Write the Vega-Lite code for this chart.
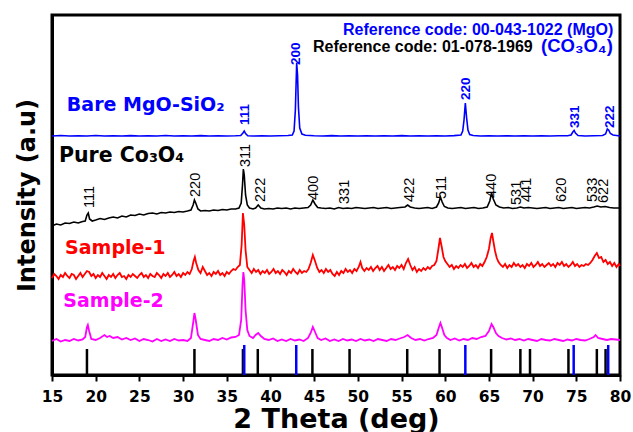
{
"$schema": "https://vega.github.io/schema/vega-lite/v6.json",
"width": 568, "height": 360,
"autosize": {"type": "none"},
"padding": {"left": 52, "top": 15, "right": 13, "bottom": 57},
"background": "white",
"config": {"view": {"stroke": "black", "strokeWidth": 3}, "font": "DejaVu Sans"},
"datasets": {
"minor": [{"x":17.5},{"x":22.5},{"x":27.5},{"x":32.5},{"x":37.5},{"x":42.5},{"x":47.5},{"x":52.5},{"x":57.5},{"x":62.5},{"x":67.5},{"x":72.5},{"x":77.5}],
"sticks": [
{"x":19.0,"y":26,"p":"Co3O4"},{"x":31.3,"y":26,"p":"Co3O4"},{"x":36.85,"y":26,"p":"Co3O4"},{"x":38.55,"y":26,"p":"Co3O4"},{"x":44.8,"y":26,"p":"Co3O4"},{"x":49.05,"y":26,"p":"Co3O4"},{"x":55.65,"y":26,"p":"Co3O4"},{"x":59.35,"y":26,"p":"Co3O4"},{"x":65.25,"y":26,"p":"Co3O4"},{"x":68.6,"y":26,"p":"Co3O4"},{"x":69.7,"y":26,"p":"Co3O4"},{"x":74.1,"y":26,"p":"Co3O4"},{"x":77.35,"y":26,"p":"Co3O4"},{"x":78.35,"y":26,"p":"Co3O4"},
{"x":37.0,"y":30,"p":"MgO"},{"x":42.95,"y":30,"p":"MgO"},{"x":62.3,"y":30,"p":"MgO"},{"x":74.7,"y":30,"p":"MgO"},{"x":78.65,"y":30,"p":"MgO"}],
"mgo": [
{"x":15,"y":239},{"x":16,"y":239.5},{"x":17,"y":239},{"x":18,"y":239.3},{"x":19,"y":239},{"x":20,"y":239.5},{"x":21,"y":239},{"x":22,"y":239.2},{"x":23,"y":239},{"x":24,"y":239.4},{"x":25,"y":239},{"x":26,"y":239.3},{"x":27,"y":239},{"x":28,"y":239.5},{"x":29,"y":239},{"x":30,"y":239.2},{"x":31,"y":239},{"x":32,"y":239.4},{"x":33,"y":239},{"x":34,"y":239.3},{"x":35,"y":239},{"x":36,"y":239.2},{"x":36.6,"y":239.5},{"x":36.85,"y":242},{"x":37.0,"y":244},{"x":37.15,"y":241.5},{"x":37.4,"y":239.3},{"x":38,"y":239},{"x":39,"y":239.2},{"x":40,"y":239},{"x":41,"y":239.3},{"x":42,"y":239.5},{"x":42.5,"y":240},{"x":42.7,"y":244},{"x":42.85,"y":265},{"x":43.0,"y":312},{"x":43.1,"y":300},{"x":43.2,"y":268},{"x":43.35,"y":247},{"x":43.6,"y":241},{"x":44,"y":239.8},{"x":45,"y":239.3},{"x":46,"y":239},{"x":47,"y":239.4},{"x":48,"y":239},{"x":49,"y":239.2},{"x":50,"y":239},{"x":51,"y":239.3},{"x":52,"y":239},{"x":53,"y":239.2},{"x":54,"y":239},{"x":55,"y":239.4},{"x":56,"y":239},{"x":57,"y":239.2},{"x":58,"y":239},{"x":59,"y":239.3},{"x":60,"y":239},{"x":61,"y":239.4},{"x":61.8,"y":240},{"x":62.0,"y":244},{"x":62.15,"y":255},{"x":62.3,"y":272},{"x":62.45,"y":257},{"x":62.6,"y":245},{"x":62.8,"y":240.5},{"x":63.2,"y":239.5},{"x":64,"y":239},{"x":65,"y":239.3},{"x":66,"y":239},{"x":67,"y":239.2},{"x":68,"y":239},{"x":69,"y":239.3},{"x":70,"y":239},{"x":71,"y":239.2},{"x":72,"y":239},{"x":73,"y":239.3},{"x":74,"y":239.2},{"x":74.4,"y":240},{"x":74.6,"y":243},{"x":74.75,"y":244.5},{"x":74.9,"y":242},{"x":75.2,"y":239.5},{"x":76,"y":239},{"x":77,"y":239.3},{"x":78,"y":239.5},{"x":78.35,"y":241},{"x":78.55,"y":246},{"x":78.7,"y":245},{"x":78.9,"y":241.5},{"x":79.2,"y":240},{"x":79.6,"y":239.5},{"x":80,"y":239}],
"co": [
{"x":15,"y":149},{"x":15.5,"y":151},{"x":16,"y":150},{"x":16.5,"y":152},{"x":17,"y":151.5},{"x":17.5,"y":153},{"x":18,"y":152},{"x":18.5,"y":153.5},{"x":18.8,"y":154},{"x":19.0,"y":160},{"x":19.15,"y":162},{"x":19.3,"y":156},{"x":19.6,"y":154},{"x":20,"y":155},{"x":20.5,"y":156.5},{"x":21,"y":155.5},{"x":21.5,"y":157},{"x":22,"y":158},{"x":22.5,"y":157},{"x":23,"y":159},{"x":23.5,"y":158},{"x":24,"y":160},{"x":24.5,"y":159.5},{"x":25,"y":161},{"x":25.5,"y":160},{"x":26,"y":161.5},{"x":26.5,"y":162},{"x":27,"y":161},{"x":27.5,"y":162.5},{"x":28,"y":162},{"x":28.5,"y":163},{"x":29,"y":162.5},{"x":29.5,"y":163.5},{"x":30,"y":163},{"x":30.5,"y":164},{"x":30.9,"y":165},{"x":31.15,"y":170},{"x":31.3,"y":175},{"x":31.45,"y":172},{"x":31.7,"y":166},{"x":32,"y":164},{"x":32.5,"y":164.5},{"x":33,"y":164},{"x":33.5,"y":165},{"x":34,"y":164.5},{"x":34.5,"y":165.5},{"x":35,"y":165},{"x":35.5,"y":166},{"x":36,"y":166},{"x":36.4,"y":167},{"x":36.65,"y":172},{"x":36.8,"y":190},{"x":36.9,"y":206},{"x":37.0,"y":200},{"x":37.15,"y":180},{"x":37.35,"y":170},{"x":37.6,"y":167},{"x":38,"y":166},{"x":38.3,"y":167},{"x":38.6,"y":170},{"x":38.9,"y":167},{"x":39.3,"y":166},{"x":39.8,"y":166.5},{"x":40.3,"y":166},{"x":40.8,"y":167},{"x":41.3,"y":166.5},{"x":41.8,"y":167},{"x":42.3,"y":166},{"x":42.8,"y":167},{"x":43.3,"y":166.5},{"x":43.8,"y":167},{"x":44.3,"y":167.5},{"x":44.6,"y":170},{"x":44.85,"y":175},{"x":45.1,"y":171},{"x":45.4,"y":167.5},{"x":45.8,"y":167},{"x":46.3,"y":166.5},{"x":46.8,"y":167},{"x":47.3,"y":166},{"x":47.8,"y":167.5},{"x":48.3,"y":166.5},{"x":48.8,"y":167},{"x":49.3,"y":166.5},{"x":49.8,"y":167.5},{"x":50.3,"y":167},{"x":50.8,"y":166.5},{"x":51.3,"y":167},{"x":51.8,"y":167.5},{"x":52.3,"y":166.5},{"x":52.8,"y":167},{"x":53.3,"y":167.5},{"x":53.8,"y":166.5},{"x":54.3,"y":167},{"x":54.8,"y":167.5},{"x":55.4,"y":168},{"x":55.7,"y":170},{"x":56.0,"y":168},{"x":56.5,"y":167},{"x":57,"y":166.5},{"x":57.5,"y":167},{"x":58,"y":167.5},{"x":58.5,"y":166.5},{"x":59,"y":168},{"x":59.25,"y":172},{"x":59.45,"y":178},{"x":59.65,"y":173},{"x":59.9,"y":168.5},{"x":60.3,"y":167},{"x":60.8,"y":166.5},{"x":61.3,"y":167},{"x":61.8,"y":167.5},{"x":62.3,"y":166.5},{"x":62.8,"y":167},{"x":63.3,"y":167.5},{"x":63.8,"y":166.5},{"x":64.3,"y":167},{"x":64.8,"y":168},{"x":65.1,"y":174},{"x":65.3,"y":182},{"x":65.5,"y":176},{"x":65.8,"y":170},{"x":66.2,"y":168},{"x":66.7,"y":167},{"x":67.2,"y":167.5},{"x":67.7,"y":166.5},{"x":68.2,"y":167},{"x":68.6,"y":168},{"x":69,"y":167},{"x":69.5,"y":167.5},{"x":70,"y":167},{"x":70.5,"y":166.5},{"x":71,"y":167},{"x":71.5,"y":167.5},{"x":72,"y":166.5},{"x":72.5,"y":167},{"x":73,"y":167.5},{"x":73.5,"y":166.5},{"x":74,"y":167},{"x":74.5,"y":167.5},{"x":75,"y":166.5},{"x":75.5,"y":167},{"x":76,"y":167.5},{"x":76.5,"y":167},{"x":77,"y":168},{"x":77.4,"y":169},{"x":77.8,"y":168},{"x":78.3,"y":168.5},{"x":78.8,"y":167.5},{"x":79.3,"y":167},{"x":80,"y":167}],
"s1": [
{"x":15.0,"y":97},{"x":15.25,"y":101},{"x":15.5,"y":99},{"x":15.75,"y":96},{"x":16,"y":100},{"x":16.25,"y":98},{"x":16.5,"y":102},{"x":16.75,"y":99},{"x":17,"y":97},{"x":17.25,"y":101},{"x":17.5,"y":100},{"x":17.75,"y":96},{"x":18,"y":99},{"x":18.25,"y":102},{"x":18.5,"y":98},{"x":18.75,"y":101},{"x":19.0,"y":104},{"x":19.25,"y":103},{"x":19.5,"y":99},{"x":19.75,"y":101},{"x":20,"y":97},{"x":20.25,"y":100},{"x":20.5,"y":98},{"x":20.75,"y":102},{"x":21,"y":99},{"x":21.25,"y":96},{"x":21.5,"y":100},{"x":21.75,"y":98},{"x":22,"y":101},{"x":22.25,"y":97},{"x":22.5,"y":100},{"x":22.75,"y":102},{"x":23,"y":98},{"x":23.25,"y":99},{"x":23.5,"y":96},{"x":23.75,"y":100},{"x":24,"y":98},{"x":24.25,"y":101},{"x":24.5,"y":99},{"x":24.75,"y":97},{"x":25,"y":100},{"x":25.25,"y":102},{"x":25.5,"y":98},{"x":25.75,"y":100},{"x":26,"y":97},{"x":26.25,"y":101},{"x":26.5,"y":99},{"x":26.75,"y":98},{"x":27,"y":102},{"x":27.25,"y":100},{"x":27.5,"y":97},{"x":27.75,"y":101},{"x":28,"y":99},{"x":28.25,"y":102},{"x":28.5,"y":98},{"x":28.75,"y":100},{"x":29,"y":103},{"x":29.25,"y":99},{"x":29.5,"y":101},{"x":29.75,"y":98},{"x":30,"y":102},{"x":30.25,"y":100},{"x":30.5,"y":103},{"x":30.75,"y":101},{"x":31.0,"y":106},{"x":31.2,"y":114},{"x":31.35,"y":118},{"x":31.5,"y":112},{"x":31.75,"y":105},{"x":32.0,"y":102},{"x":32.25,"y":108},{"x":32.5,"y":104},{"x":32.75,"y":100},{"x":33,"y":102},{"x":33.25,"y":99},{"x":33.5,"y":103},{"x":33.75,"y":101},{"x":34,"y":104},{"x":34.25,"y":100},{"x":34.5,"y":102},{"x":34.75,"y":99},{"x":35,"y":103},{"x":35.25,"y":101},{"x":35.5,"y":104},{"x":35.75,"y":106},{"x":36,"y":105},{"x":36.25,"y":108},{"x":36.5,"y":110},{"x":36.7,"y":130},{"x":36.85,"y":162},{"x":37.0,"y":150},{"x":37.15,"y":125},{"x":37.35,"y":108},{"x":37.6,"y":105},{"x":37.85,"y":102},{"x":38.1,"y":106},{"x":38.35,"y":103},{"x":38.6,"y":105},{"x":38.85,"y":101},{"x":39.1,"y":104},{"x":39.35,"y":102},{"x":39.6,"y":105},{"x":39.85,"y":101},{"x":40.1,"y":103},{"x":40.35,"y":106},{"x":40.6,"y":102},{"x":40.85,"y":104},{"x":41.1,"y":101},{"x":41.35,"y":105},{"x":41.6,"y":103},{"x":41.85,"y":100},{"x":42.1,"y":104},{"x":42.35,"y":102},{"x":42.6,"y":106},{"x":42.85,"y":103},{"x":43.1,"y":101},{"x":43.35,"y":105},{"x":43.6,"y":102},{"x":43.85,"y":104},{"x":44.1,"y":103},{"x":44.35,"y":106},{"x":44.6,"y":112},{"x":44.85,"y":120},{"x":45.1,"y":114},{"x":45.35,"y":107},{"x":45.6,"y":103},{"x":45.85,"y":105},{"x":46.1,"y":102},{"x":46.35,"y":106},{"x":46.6,"y":103},{"x":46.85,"y":105},{"x":47.1,"y":101},{"x":47.35,"y":99},{"x":47.6,"y":103},{"x":47.85,"y":100},{"x":48.1,"y":104},{"x":48.35,"y":102},{"x":48.6,"y":106},{"x":48.85,"y":103},{"x":49.1,"y":105},{"x":49.35,"y":102},{"x":49.6,"y":106},{"x":49.85,"y":104},{"x":50.1,"y":108},{"x":50.3,"y":113},{"x":50.5,"y":107},{"x":50.75,"y":104},{"x":51,"y":107},{"x":51.25,"y":105},{"x":51.5,"y":108},{"x":51.75,"y":104},{"x":52,"y":107},{"x":52.25,"y":109},{"x":52.5,"y":105},{"x":52.75,"y":108},{"x":53,"y":104},{"x":53.25,"y":107},{"x":53.5,"y":110},{"x":53.75,"y":106},{"x":54,"y":108},{"x":54.25,"y":105},{"x":54.5,"y":109},{"x":54.75,"y":107},{"x":55,"y":110},{"x":55.25,"y":106},{"x":55.5,"y":112},{"x":55.75,"y":116},{"x":56,"y":110},{"x":56.25,"y":105},{"x":56.5,"y":108},{"x":56.75,"y":103},{"x":57,"y":106},{"x":57.25,"y":104},{"x":57.5,"y":107},{"x":57.75,"y":105},{"x":58,"y":108},{"x":58.25,"y":106},{"x":58.5,"y":109},{"x":58.75,"y":110},{"x":59,"y":114},{"x":59.2,"y":125},{"x":59.4,"y":137},{"x":59.6,"y":128},{"x":59.8,"y":118},{"x":60,"y":114},{"x":60.25,"y":111},{"x":60.5,"y":108},{"x":60.75,"y":110},{"x":61,"y":106},{"x":61.25,"y":109},{"x":61.5,"y":107},{"x":61.75,"y":110},{"x":62,"y":108},{"x":62.25,"y":111},{"x":62.5,"y":107},{"x":62.75,"y":109},{"x":63,"y":112},{"x":63.25,"y":108},{"x":63.5,"y":110},{"x":63.75,"y":107},{"x":64,"y":111},{"x":64.25,"y":109},{"x":64.5,"y":113},{"x":64.75,"y":118},{"x":65,"y":126},{"x":65.2,"y":137},{"x":65.35,"y":142},{"x":65.5,"y":134},{"x":65.7,"y":124},{"x":65.9,"y":117},{"x":66.1,"y":113},{"x":66.35,"y":110},{"x":66.6,"y":108},{"x":66.85,"y":111},{"x":67.1,"y":107},{"x":67.35,"y":110},{"x":67.6,"y":108},{"x":67.85,"y":112},{"x":68.1,"y":109},{"x":68.35,"y":111},{"x":68.6,"y":108},{"x":68.85,"y":110},{"x":69.1,"y":107},{"x":69.35,"y":111},{"x":69.6,"y":109},{"x":69.85,"y":112},{"x":70.1,"y":108},{"x":70.35,"y":110},{"x":70.6,"y":113},{"x":70.85,"y":109},{"x":71.1,"y":111},{"x":71.35,"y":108},{"x":71.6,"y":110},{"x":71.85,"y":112},{"x":72.1,"y":109},{"x":72.35,"y":111},{"x":72.6,"y":108},{"x":72.85,"y":112},{"x":73.1,"y":110},{"x":73.35,"y":113},{"x":73.6,"y":109},{"x":73.85,"y":111},{"x":74.1,"y":108},{"x":74.35,"y":110},{"x":74.6,"y":113},{"x":74.85,"y":109},{"x":75.1,"y":111},{"x":75.35,"y":108},{"x":75.6,"y":110},{"x":75.85,"y":109},{"x":76.1,"y":111},{"x":76.35,"y":110},{"x":76.6,"y":112},{"x":76.85,"y":115},{"x":77.1,"y":119},{"x":77.35,"y":122},{"x":77.6,"y":117},{"x":77.85,"y":118},{"x":78.1,"y":113},{"x":78.35,"y":115},{"x":78.6,"y":111},{"x":78.85,"y":113},{"x":79.1,"y":109},{"x":79.35,"y":112},{"x":79.6,"y":108},{"x":79.85,"y":111},{"x":80,"y":109}],
"s2": [
{"x":15,"y":34},{"x":15.5,"y":36},{"x":16,"y":33.5},{"x":16.5,"y":35},{"x":17,"y":34},{"x":17.5,"y":36},{"x":18,"y":34.5},{"x":18.5,"y":35.5},{"x":18.8,"y":38},{"x":19.0,"y":48},{"x":19.1,"y":50},{"x":19.25,"y":44},{"x":19.5,"y":36},{"x":20,"y":35},{"x":20.5,"y":37},{"x":21,"y":40},{"x":21.3,"y":38},{"x":21.6,"y":39},{"x":22,"y":37},{"x":22.5,"y":38},{"x":23,"y":35.5},{"x":23.5,"y":37},{"x":24,"y":35},{"x":24.5,"y":36.5},{"x":25,"y":34},{"x":25.5,"y":36},{"x":26,"y":35},{"x":26.5,"y":33.5},{"x":27,"y":36},{"x":27.5,"y":34},{"x":28,"y":35.5},{"x":28.5,"y":34},{"x":29,"y":36},{"x":29.5,"y":34.5},{"x":30,"y":35},{"x":30.5,"y":34},{"x":30.9,"y":37},{"x":31.15,"y":52},{"x":31.3,"y":62},{"x":31.45,"y":55},{"x":31.7,"y":40},{"x":32,"y":36},{"x":32.5,"y":35},{"x":33,"y":34},{"x":33.5,"y":36},{"x":34,"y":35},{"x":34.5,"y":37},{"x":35,"y":35.5},{"x":35.5,"y":37.5},{"x":36,"y":38},{"x":36.4,"y":40},{"x":36.65,"y":55},{"x":36.8,"y":90},{"x":36.9,"y":103},{"x":37.0,"y":95},{"x":37.15,"y":65},{"x":37.35,"y":45},{"x":37.6,"y":39},{"x":38,"y":37},{"x":38.3,"y":40},{"x":38.6,"y":42},{"x":38.9,"y":39},{"x":39.3,"y":36},{"x":39.8,"y":35},{"x":40.3,"y":36.5},{"x":40.8,"y":34},{"x":41.3,"y":35.5},{"x":41.8,"y":34},{"x":42.3,"y":36},{"x":42.8,"y":34.5},{"x":43.3,"y":35.5},{"x":43.8,"y":34},{"x":44.3,"y":37},{"x":44.6,"y":42},{"x":44.85,"y":48},{"x":45.1,"y":43},{"x":45.4,"y":37},{"x":45.8,"y":35},{"x":46.3,"y":36.5},{"x":46.8,"y":34},{"x":47.3,"y":35.5},{"x":47.8,"y":34},{"x":48.3,"y":36},{"x":48.8,"y":34.5},{"x":49.3,"y":35.5},{"x":49.8,"y":34},{"x":50.3,"y":36},{"x":50.8,"y":34.5},{"x":51.3,"y":35.5},{"x":51.8,"y":34},{"x":52.3,"y":36},{"x":52.8,"y":35},{"x":53.3,"y":34},{"x":53.8,"y":36},{"x":54.3,"y":35},{"x":54.8,"y":36.5},{"x":55.3,"y":38},{"x":55.7,"y":40},{"x":56.1,"y":37},{"x":56.6,"y":35},{"x":57.1,"y":36},{"x":57.6,"y":34.5},{"x":58.1,"y":36},{"x":58.6,"y":37},{"x":59,"y":40},{"x":59.25,"y":47},{"x":59.45,"y":52},{"x":59.65,"y":47},{"x":59.9,"y":40},{"x":60.2,"y":37},{"x":60.6,"y":35},{"x":61.1,"y":36.5},{"x":61.6,"y":34.5},{"x":62.1,"y":36},{"x":62.6,"y":35},{"x":63.1,"y":37},{"x":63.6,"y":36},{"x":64.1,"y":38},{"x":64.6,"y":39},{"x":65,"y":44},{"x":65.3,"y":51},{"x":65.5,"y":48},{"x":65.8,"y":42},{"x":66.1,"y":39},{"x":66.5,"y":37},{"x":67,"y":35.5},{"x":67.5,"y":36.5},{"x":68,"y":35},{"x":68.5,"y":36},{"x":69,"y":34.5},{"x":69.5,"y":36},{"x":70,"y":35},{"x":70.5,"y":34},{"x":71,"y":36},{"x":71.5,"y":35},{"x":72,"y":34.5},{"x":72.5,"y":36},{"x":73,"y":35},{"x":73.5,"y":34},{"x":74,"y":35.5},{"x":74.5,"y":34.5},{"x":75,"y":36},{"x":75.5,"y":35},{"x":76,"y":34.5},{"x":76.5,"y":36},{"x":77,"y":38},{"x":77.2,"y":40},{"x":77.5,"y":37},{"x":78,"y":36},{"x":78.5,"y":35},{"x":79,"y":36},{"x":79.5,"y":35.5},{"x":80,"y":35}],
"hklB": [{"x":37.1,"y":250,"t":"111"},{"x":42.9,"y":310,"t":"200"},{"x":62.4,"y":275,"t":"220"},{"x":74.85,"y":247,"t":"331"},{"x":78.85,"y":247,"t":"222"}],
"hklK": [{"x":19.3,"y":167,"t":"111"},{"x":31.5,"y":178,"t":"220"},{"x":37.2,"y":208,"t":"311"},{"x":38.95,"y":173,"t":"222"},{"x":45.0,"y":175,"t":"400"},{"x":48.5,"y":171,"t":"331"},{"x":56.0,"y":173,"t":"422"},{"x":59.6,"y":176,"t":"511"},{"x":65.3,"y":177,"t":"440"},{"x":68.2,"y":170,"t":"531"},{"x":69.4,"y":173,"t":"441"},{"x":73.4,"y":173,"t":"620"},{"x":76.9,"y":173,"t":"533"},{"x":78.2,"y":172,"t":"622"}],
"names": [{"x":16.7,"y":264,"t":"Bare MgO-SiO₂","p":"MgO"},{"x":16.5,"y":121,"t":"Sample-1","p":"Sample-1"},{"x":16.3,"y":68,"t":"Sample-2","p":"Sample-2"}],
"name2": [{"x":15.8,"y":213,"t":"Pure Co₃O₄"}],
"ref1": [{"x":48.3,"y":340,"t":"Reference code: 00-043-1022 (MgO)"}],
"ref2": [{"x":44.87,"y":323,"t":"Reference code: 01-078-1969"}],
"ref3": [{"x":70.96,"y":323,"t":"(CO₃O₄)"}]
},
"encoding": {
"x": {"field": "x", "type": "quantitative", "scale": {"domain": [15, 80], "nice": false, "zero": false},
 "axis": {"orient": "bottom", "title": "2 Theta (deg)", "values": [15,20,25,30,35,40,45,50,55,60,65,70,75,80], "grid": false, "domainColor": "black", "domainWidth": 3, "tickColor": "black", "tickWidth": 2, "tickSize": 6, "labelFont": "DejaVu Sans", "labelFontWeight": "bold", "labelFontSize": 15.5, "labelColor": "black", "labelPadding": 8, "labelFlush": false, "labelOverlap": false, "titleFont": "DejaVu Sans", "titleFontWeight": "bold", "titleFontSize": 27, "titleColor": "black", "titlePadding": 2}},
"y": {"field": "y", "type": "quantitative", "scale": {"domain": [0, 360], "nice": false, "zero": false},
 "axis": {"orient": "left", "title": "Intensity (a.u)", "grid": false, "ticks": false, "labels": false, "domainColor": "black", "domainWidth": 3, "titleFont": "DejaVu Sans", "titleFontWeight": "bold", "titleFontSize": 24, "titleColor": "black", "titlePadding": 13}}
},
"layer": [
{"data": {"name": "sticks"}, "mark": {"type": "rule", "strokeWidth": 2.5}, "encoding": {"y2": {"datum": 0}, "color": {"field": "p", "type": "nominal", "scale": {"domain": ["MgO", "Co3O4", "Sample-1", "Sample-2"], "range": ["#0000ff", "#000000", "#ff0000", "#ff00ff"]}, "legend": null}}},
{"data": {"name": "mgo"}, "mark": {"type": "line", "color": "#0000ff", "strokeWidth": 1.6}, "encoding": {}},
{"data": {"name": "co"}, "mark": {"type": "line", "color": "#000000", "strokeWidth": 1.6}, "encoding": {}},
{"data": {"name": "s1"}, "mark": {"type": "line", "color": "#ff0000", "strokeWidth": 1.8}, "encoding": {}},
{"data": {"name": "s2"}, "mark": {"type": "line", "color": "#ff00ff", "strokeWidth": 1.8}, "encoding": {}},
{"data": {"name": "hklB"}, "mark": {"type": "text", "angle": 270, "align": "left", "baseline": "middle", "font": "Liberation Sans", "fontWeight": "bold", "fontSize": 13.5, "color": "#0000ff"}, "encoding": {"text": {"field": "t"}}},
{"data": {"name": "hklK"}, "mark": {"type": "text", "angle": 270, "align": "left", "baseline": "middle", "font": "Liberation Sans", "fontSize": 14.5, "color": "#000000"}, "encoding": {"text": {"field": "t"}}},
{"data": {"name": "names"}, "mark": {"type": "text", "align": "left", "baseline": "alphabetic", "font": "DejaVu Sans", "fontWeight": "bold", "fontSize": 19}, "encoding": {"text": {"field": "t"}, "color": {"field": "p", "type": "nominal", "scale": {"domain": ["MgO", "Co3O4", "Sample-1", "Sample-2"], "range": ["#0000ff", "#000000", "#ff0000", "#ff00ff"]}, "legend": null}}},
{"data": {"name": "name2"}, "mark": {"type": "text", "align": "left", "baseline": "alphabetic", "font": "DejaVu Sans", "fontWeight": "bold", "fontSize": 20.5, "color": "#000000"}, "encoding": {"text": {"field": "t"}}},
{"data": {"name": "ref1"}, "mark": {"type": "text", "align": "left", "baseline": "alphabetic", "font": "Liberation Sans", "fontWeight": "bold", "fontSize": 16, "color": "#0000ff"}, "encoding": {"text": {"field": "t"}}},
{"data": {"name": "ref2"}, "mark": {"type": "text", "align": "left", "baseline": "alphabetic", "font": "Liberation Sans", "fontWeight": "bold", "fontSize": 16, "color": "#000000"}, "encoding": {"text": {"field": "t"}}},
{"data": {"name": "ref3"}, "mark": {"type": "text", "align": "left", "baseline": "alphabetic", "font": "Liberation Sans", "fontWeight": "bold", "fontSize": 18.5, "color": "#0000ff"}, "encoding": {"text": {"field": "t"}}},
{"data": {"name": "minor"}, "mark": {"type": "rule", "color": "black", "strokeWidth": 2}, "encoding": {"y": {"datum": 0, "scale": {"domain": [0, 360], "nice": false, "zero": false}, "axis": {"orient": "left", "title": "Intensity (a.u)", "grid": false, "ticks": false, "labels": false, "domainColor": "black", "domainWidth": 3, "titleFont": "DejaVu Sans", "titleFontWeight": "bold", "titleFontSize": 24, "titleColor": "black", "titlePadding": 13}}, "y2": {"datum": -4.5}}}
]
}
